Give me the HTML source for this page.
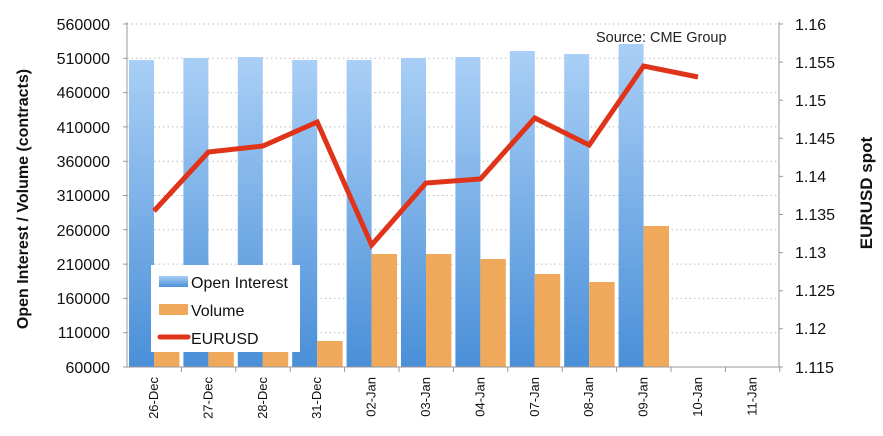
<!DOCTYPE html>
<html><head><meta charset="utf-8"><style>
html,body{margin:0;padding:0;background:#fff;}
svg{display:block;font-family:"Liberation Sans",sans-serif;}
</style></head><body>
<svg width="883" height="436" viewBox="0 0 883 436">
<defs>
<linearGradient id="bg" x1="0" y1="0" x2="0" y2="1">
<stop offset="0" stop-color="#a9cff6"/><stop offset="1" stop-color="#4a8fd8"/>
</linearGradient>
</defs>
<g stroke="#bbb" stroke-dasharray="1.5,3" stroke-width="1">
<line x1="127" x2="779" y1="24" y2="24"/><line x1="127" x2="779" y1="58.3" y2="58.3"/>
<line x1="127" x2="779" y1="92.6" y2="92.6"/><line x1="127" x2="779" y1="126.9" y2="126.9"/>
<line x1="127" x2="779" y1="161.2" y2="161.2"/><line x1="127" x2="779" y1="195.5" y2="195.5"/>
<line x1="127" x2="779" y1="229.8" y2="229.8"/><line x1="127" x2="779" y1="264.1" y2="264.1"/>
<line x1="127" x2="779" y1="298.4" y2="298.4"/><line x1="127" x2="779" y1="332.7" y2="332.7"/>
</g>
<g fill="url(#bg)">
<rect x="129" y="60" width="25" height="307"/>
<rect x="183.4" y="58" width="25" height="309"/>
<rect x="237.8" y="57" width="25" height="310"/>
<rect x="292.2" y="60" width="25" height="307"/>
<rect x="346.6" y="60" width="25" height="307"/>
<rect x="401" y="58" width="25" height="309"/>
<rect x="455.4" y="57" width="25" height="310"/>
<rect x="509.8" y="51" width="25" height="316"/>
<rect x="564.2" y="54" width="25" height="313"/>
<rect x="618.6" y="44" width="25" height="323"/>
</g>
<g fill="#f0a85a">
<rect x="154" y="300" width="25.4" height="67"/>
<rect x="208.4" y="300" width="25.4" height="67"/>
<rect x="262.8" y="300" width="25.4" height="67"/>
<rect x="317.2" y="341" width="25.4" height="26"/>
<rect x="371.6" y="254" width="25.4" height="113"/>
<rect x="426" y="254" width="25.4" height="113"/>
<rect x="480.4" y="259" width="25.4" height="108"/>
<rect x="534.8" y="274" width="25.4" height="93"/>
<rect x="589.2" y="282" width="25.4" height="85"/>
<rect x="643.6" y="226" width="25.4" height="141"/>
</g>
<polyline fill="none" stroke="#e0341a" stroke-width="5" stroke-linejoin="miter" points="154,211 208.4,152 262.8,146 317.2,122 371.6,245 426,183 480.4,179 534.8,118 589.2,145 643.6,66 698,77"/>
<g stroke="#999" stroke-width="1" fill="none">
<line x1="127" y1="22" x2="127" y2="367"/>
<line x1="779" y1="22" x2="779" y2="367"/>
<line x1="127" y1="367" x2="782" y2="367"/>
<path d="M123 24h4M123 58.3h4M123 92.6h4M123 126.9h4M123 161.2h4M123 195.5h4M123 229.8h4M123 264.1h4M123 298.4h4M123 332.7h4M123 367h4"/>
<path d="M779 24h4M779 62.1h4M779 100.2h4M779 138.3h4M779 176.4h4M779 214.5h4M779 252.6h4M779 290.7h4M779 328.8h4M779 367h4"/>
<path d="M181.4 367v5M235.8 367v5M290.2 367v5M344.6 367v5M399 367v5M453.4 367v5M507.8 367v5M562.2 367v5M616.6 367v5M671 367v5M725.4 367v5M779.8 367v5"/>
</g>
<g font-size="16" fill="#111" text-anchor="end">
<text x="110" y="30">560000</text><text x="110" y="64">510000</text><text x="110" y="98">460000</text>
<text x="110" y="133">410000</text><text x="110" y="167">360000</text><text x="110" y="201">310000</text>
<text x="110" y="236">260000</text><text x="110" y="270">210000</text><text x="110" y="304">160000</text>
<text x="110" y="338">110000</text><text x="110" y="373">60000</text>
</g>
<g font-size="16" fill="#111">
<text x="795" y="30">1.16</text><text x="795" y="68">1.155</text><text x="795" y="106">1.15</text>
<text x="795" y="144">1.145</text><text x="795" y="182">1.14</text><text x="795" y="220">1.135</text>
<text x="795" y="258">1.13</text><text x="795" y="296">1.125</text><text x="795" y="334">1.12</text>
<text x="795" y="373">1.115</text>
</g>
<g font-size="13" fill="#111" text-anchor="end">
<text transform="translate(158,377) rotate(-90)">26-Dec</text>
<text transform="translate(212.4,377) rotate(-90)">27-Dec</text>
<text transform="translate(266.8,377) rotate(-90)">28-Dec</text>
<text transform="translate(321.2,377) rotate(-90)">31-Dec</text>
<text transform="translate(375.6,377) rotate(-90)">02-Jan</text>
<text transform="translate(430,377) rotate(-90)">03-Jan</text>
<text transform="translate(484.4,377) rotate(-90)">04-Jan</text>
<text transform="translate(538.8,377) rotate(-90)">07-Jan</text>
<text transform="translate(593.2,377) rotate(-90)">08-Jan</text>
<text transform="translate(647.6,377) rotate(-90)">09-Jan</text>
<text transform="translate(702,377) rotate(-90)">10-Jan</text>
<text transform="translate(756.4,377) rotate(-90)">11-Jan</text>
</g>
<text transform="translate(28,199) rotate(-90)" font-size="16" font-weight="bold" text-anchor="middle" fill="#111">Open Interest / Volume (contracts)</text>
<text transform="translate(872,193) rotate(-90)" font-size="17" font-weight="bold" text-anchor="middle" fill="#111">EURUSD spot</text>
<text x="596" y="42" font-size="14.5" fill="#222">Source: CME Group</text>
<rect x="151" y="265" width="149" height="87" fill="#fff"/>
<rect x="159" y="276" width="29" height="11" fill="url(#bg)"/>
<rect x="159" y="304" width="29" height="11" fill="#f0a85a"/>
<line x1="160" y1="337" x2="188" y2="337" stroke="#e0341a" stroke-width="5" stroke-linecap="round"/>
<g font-size="16" fill="#111">
<text x="191" y="288">Open Interest</text>
<text x="191" y="316">Volume</text>
<text x="191" y="344">EURUSD</text>
</g>
</svg>
</body></html>
